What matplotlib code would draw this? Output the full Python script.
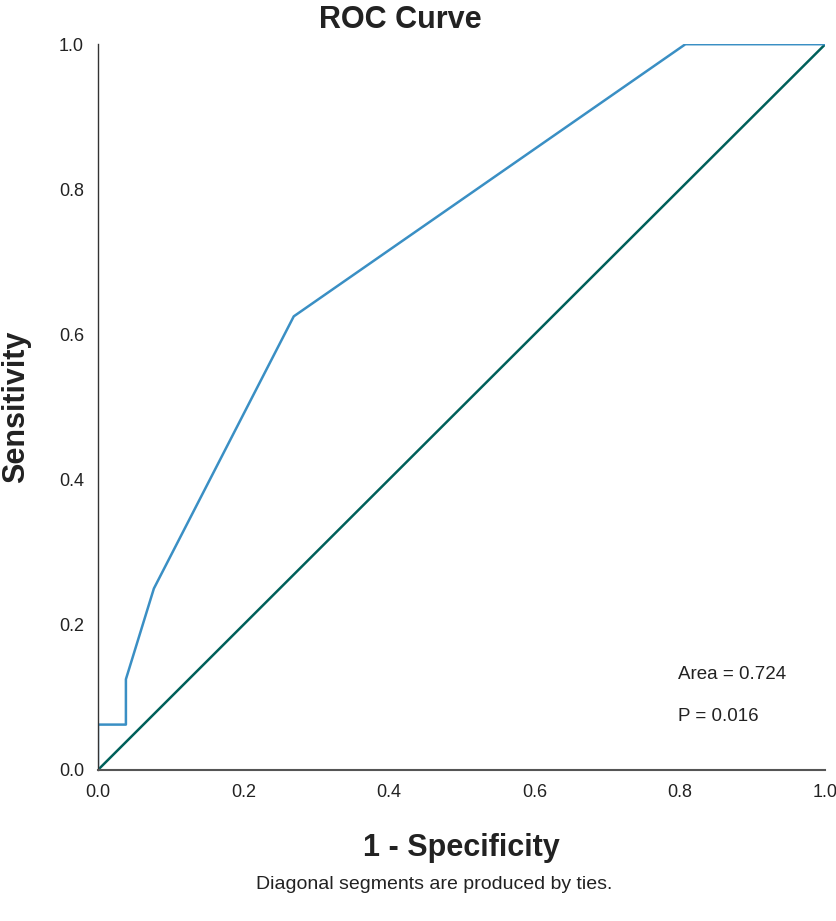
import matplotlib
matplotlib.use("Agg")
import matplotlib.pyplot as plt

plt.rcParams['font.family'] = ['Liberation Sans', 'DejaVu Sans']

# ROC 曲线坐标 (1 - 特异度, 灵敏度)
fpr = [0.0, 0.0, 1/26, 1/26, 2/26, 7/26, 21/26, 1.0]
tpr = [0.0, 1/16, 1/16, 2/16, 4/16, 10/16, 1.0, 1.0]
ref_line = [0.0, 1.0]
ticks = [0.0, 0.2, 0.4, 0.6, 0.8, 1.0]
area_text = 'Area = 0.724'
p_text = 'P = 0.016'

fig = plt.figure(figsize=(8.37, 9.21), dpi=100)
ax = fig.add_axes([0.117, 0.164, 0.869, 0.788])

ax.plot(ref_line, ref_line, color='#00605a', lw=1.8)
ax.plot(fpr, tpr, color='#3a8fc4', lw=1.8)

ax.set_xlim(0, 1)
ax.set_ylim(0, 1)
ax.set_xticks(ticks)
ax.set_yticks(ticks)
ax.set_xticklabels([f'{t:.1f}' for t in ticks])
ax.set_yticklabels([f'{t:.1f}' for t in ticks])
ax.tick_params(length=0, labelsize=13, colors='#222222')
ax.tick_params(axis='x', pad=10)
ax.tick_params(axis='y', pad=10)

for side in ['top', 'right']:
    ax.spines[side].set_visible(False)
ax.spines['left'].set_color('#333333')
ax.spines['bottom'].set_color('#555555')
ax.spines['left'].set_linewidth(1.0)
ax.spines['bottom'].set_linewidth(1.5)

fig.text(0.478, 0.978, 'ROC Curve', ha='center', va='center',
         fontsize=22, fontweight='bold', color='#222222')
ax.set_xlabel('1 - Specificity', fontsize=22, fontweight='bold', color='#222222', va='center')
ax.xaxis.set_label_coords(0.5, -0.107)
ax.set_ylabel('Sensitivity', fontsize=22, fontweight='bold', color='#222222', va='center')
ax.yaxis.set_label_coords(-0.113, 0.5)

ax.text(0.798, 0.131, area_text, fontsize=13.5, color='#222222', va='center',
        transform=ax.transAxes)
ax.text(0.798, 0.073, p_text, fontsize=13.5, color='#222222', va='center',
        transform=ax.transAxes)

fig.text(0.519, 0.040, 'Diagonal segments are produced by ties.', ha='center', va='center',
         fontsize=14, color='#222222')

fig.savefig('out.png', dpi=100)
